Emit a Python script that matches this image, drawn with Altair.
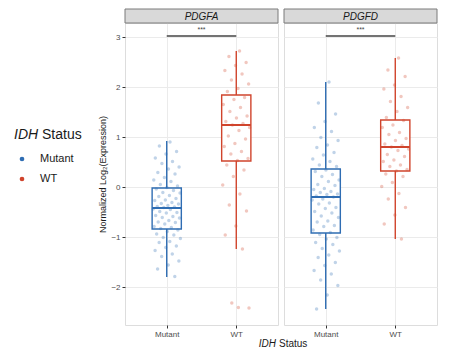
import altair as alt
import pandas as pd

genes = ["PDGFA", "PDGFD"]
statuses = ["Mutant", "WT"]

# jittered sample values (normalized log2 expression)
pdgfa_mutant = [0.90, 0.82, 0.71, 0.66, 0.58, 0.51, 0.47, 0.40, 0.36, 0.29, 0.26, 0.19, 0.14, 0.11, 0.05, 0.02, -0.01,
                -0.04, -0.07, -0.11, -0.12, -0.17, -0.19, -0.23, -0.26, -0.27, -0.31, -0.33, -0.34, -0.37, -0.39, -0.40, -0.41,
                -0.44, -0.45, -0.49, -0.51, -0.52, -0.57, -0.59, -0.61, -0.62, -0.67, -0.70, -0.71, -0.74, -0.79, -0.81, -0.83,
                -0.86, -0.89, -0.94, -0.96, -1.01, -1.03, -1.09, -1.11, -1.18, -1.21, -1.27, -1.34, -1.39, -1.48, -1.56, -1.64, -1.79]
pdgfa_wt = [2.72, 2.61, 2.49, 2.43, 2.33, 2.26, 2.14, 2.06, 1.97, 1.91,
            1.79, 1.75, 1.65, 1.59, 1.51, 1.42, 1.38, 1.31, 1.27, 1.24,
            1.19, 1.13, 1.02, 0.96, 0.87, 0.81, 0.71, 0.66, 0.57, 0.53,
            0.44, 0.34, 0.21, 0.04, -0.14, -0.36, -0.48, -0.78, -0.96, -1.24,
            -2.32, -2.42, -2.41]
pdgfd_mutant = [2.10, 1.68, 1.46, 1.31, 1.19, 1.11, 0.99, 0.93, 0.84, 0.79, 0.69, 0.64, 0.56, 0.51, 0.44, 0.41,
                0.34, 0.31, 0.25, 0.21, 0.14, 0.11, 0.05, 0.03, -0.03, -0.05, -0.09, -0.11, -0.14, -0.15, -0.18, -0.20,
                -0.24, -0.26, -0.32, -0.34, -0.41, -0.43, -0.49, -0.52, -0.58, -0.61, -0.68, -0.70, -0.77, -0.79, -0.86, -0.91,
                -0.95, -1.01, -1.04, -1.11, -1.15, -1.23, -1.28, -1.36, -1.41, -1.51, -1.57, -1.67, -1.74, -1.86, -1.97, -2.16, -2.44]
pdgfd_wt = [2.58, 2.34, 2.21, 2.04, 1.96, 1.81, 1.71, 1.59, 1.51, 1.39,
            1.33, 1.24, 1.19, 1.09, 1.05, 0.97, 0.93, 0.86, 0.83, 0.80,
            0.76, 0.73, 0.65, 0.61, 0.54, 0.51, 0.44, 0.41, 0.35, 0.32,
            0.26, 0.21, 0.09, 0.01, -0.13, -0.24, -0.41, -0.56, -0.74, -1.04]

# box summaries
box_gene = ["PDGFA", "PDGFA", "PDGFD", "PDGFD"]
box_status = ["Mutant", "WT", "Mutant", "WT"]
box_q1 = [-0.84, 0.52, -0.92, 0.32]
box_med = [-0.42, 1.24, -0.20, 0.80]
box_q3 = [-0.02, 1.84, 0.36, 1.34]
box_lo = [-1.80, -1.24, -2.44, -1.04]
box_hi = [0.92, 2.72, 2.10, 2.58]

sig_label = "***"
sig_y = 3.02

y_ticks = [-2, -1, 0, 1, 2, 3]

BOX_COL = ["#2f6db3", "#d0442c"]
PT_COL = ["#4d6fd8", "#e3563f"]

# ---- tables ----
rows = []
for gene, status, vals in [("PDGFA", "Mutant", pdgfa_mutant), ("PDGFA", "WT", pdgfa_wt),
                           ("PDGFD", "Mutant", pdgfd_mutant), ("PDGFD", "WT", pdgfd_wt)]:
    pos = statuses.index(status) + 1
    for k, v in enumerate(vals):
        jit = (((k + 1) * 0.6180339887) % 1.0 - 0.5) * 0.4
        rows.append({"gene": gene, "status": status, "value": v, "xj": pos + jit})
points = pd.DataFrame(rows)

boxes = pd.DataFrame({"gene": box_gene, "status": box_status, "q1": box_q1, "med": box_med,
                      "q3": box_q3, "lo": box_lo, "hi": box_hi})
boxes["pos"] = [statuses.index(s) + 1 for s in boxes["status"]]
boxes["x1"] = boxes["pos"] - 0.21
boxes["x2"] = boxes["pos"] + 0.21

W, H = 153, 302
yscale = alt.Scale(domain=[-2.76, 3.28], nice=False, zero=False)
xscale = alt.Scale(domain=[0.4, 2.6], nice=False, zero=False)
box_scale = alt.Scale(domain=statuses, range=BOX_COL)
pt_scale = alt.Scale(domain=statuses, range=PT_COL)

FONT = "Liberation Sans"


def panel(gene, first):
    xaxis = alt.Axis(values=[1, 2], labelExpr="datum.value == 1 ? 'Mutant' : 'WT'", title=None,
                     grid=True, gridColor="#ebebeb", domain=False, tickColor="#333333", tickSize=3,
                     labelFontSize=8, labelColor="#4d4d4d", labelPadding=2, labelFont=FONT)
    if first:
        yaxis = alt.Axis(values=y_ticks, title="Normalized Log₂(Expression)", grid=True, gridColor="#ebebeb",
                         domain=False, tickColor="#333333", tickSize=3, labelFontSize=8, labelColor="#4d4d4d",
                         labelPadding=2, titleFontSize=9, titleFontWeight="normal", titleColor="#1a1a1a",
                         titlePadding=3, titleFont=FONT, labelFont=FONT)
    else:
        yaxis = alt.Axis(values=y_ticks, title=None, grid=True, gridColor="#ebebeb", domain=False,
                         labels=False, ticks=False)

    bx = boxes[boxes["gene"] == gene]
    pts = points[points["gene"] == gene]

    whisk = alt.Chart(bx).mark_rule(strokeWidth=1.4).encode(
        x=alt.X("pos:Q", scale=xscale, axis=xaxis),
        y=alt.Y("lo:Q", scale=yscale, axis=yaxis),
        y2="hi:Q",
        color=alt.Color("status:N", scale=box_scale, legend=None),
    )
    box = alt.Chart(bx).mark_rect(fill="white", strokeWidth=1.4).encode(
        x=alt.X("x1:Q", scale=xscale, axis=xaxis),
        x2="x2:Q",
        y=alt.Y("q1:Q", scale=yscale, axis=yaxis),
        y2="q3:Q",
        stroke=alt.Stroke("status:N", scale=box_scale, legend=None),
    )
    dots = alt.Chart(pts).mark_circle(size=12, opacity=0.3).encode(
        x=alt.X("xj:Q", scale=xscale, axis=xaxis),
        y=alt.Y("value:Q", scale=yscale, axis=yaxis),
        color=alt.Color("status:N", scale=pt_scale, legend=None),
    )
    med = alt.Chart(bx).mark_rule(strokeWidth=2).encode(
        x=alt.X("x1:Q", scale=xscale, axis=xaxis),
        x2="x2:Q",
        y=alt.Y("med:Q", scale=yscale, axis=yaxis),
        color=alt.Color("status:N", scale=box_scale, legend=None),
    )
    sig_df = pd.DataFrame({"a": [1], "b": [2], "m": [1.5], "y": [sig_y], "lab": [sig_label]})
    sig = alt.Chart(sig_df).mark_rule(color="#444444", strokeWidth=1.3).encode(
        x=alt.X("a:Q", scale=xscale, axis=xaxis), x2="b:Q",
        y=alt.Y("y:Q", scale=yscale, axis=yaxis),
    )
    sigt = alt.Chart(sig_df).mark_text(fontSize=7, color="#444444", dy=-6, font=FONT).encode(
        x=alt.X("m:Q", scale=xscale, axis=xaxis),
        y=alt.Y("y:Q", scale=yscale, axis=yaxis),
        text="lab:N",
    )
    one = pd.DataFrame({"gene": [gene]})
    strip = alt.Chart(one).mark_rect(fill="#d9d9d9", stroke="#7a7a7a", strokeWidth=1).encode(
        x=alt.value(0), x2=alt.value(W), y=alt.value(-14), y2=alt.value(0)
    )
    stript = alt.Chart(one).mark_text(fontSize=10, fontStyle="italic", color="#1a1a1a", font=FONT).encode(
        x=alt.value(W / 2), y=alt.value(-6.5), text="gene:N"
    )
    layers = [whisk, box, dots, med, sig, sigt, strip, stript]

    if first:
        leg = pd.DataFrame({"status": statuses, "yy": [136, 156]})
        legt1 = alt.Chart(one).mark_text(fontSize=14, fontStyle="italic", align="left", baseline="middle",
                                         color="#1a1a1a", font=FONT).encode(
            x=alt.value(-111), y=alt.value(112), text=alt.value("IDH"))
        legt2 = alt.Chart(one).mark_text(fontSize=14, align="left", baseline="middle",
                                         color="#1a1a1a", font=FONT).encode(
            x=alt.value(-83), y=alt.value(112), text=alt.value("Status"))
        legd = alt.Chart(leg).mark_circle(size=22, opacity=1).encode(
            x=alt.value(-103), y=alt.Y("yy:Q", scale=None, axis=None),
            color=alt.Color("status:N", scale=box_scale, legend=None),
        )
        legl = alt.Chart(leg).mark_text(fontSize=11, align="left", baseline="middle", color="#1a1a1a",
                                        font=FONT).encode(
            x=alt.value(-85), y=alt.Y("yy:Q", scale=None, axis=None), text="status:N"
        )
        layers += [legt1, legt2, legd, legl]
    else:
        xt1 = alt.Chart(one).mark_text(fontSize=10, fontStyle="italic", align="right", baseline="middle",
                                       color="#1a1a1a", font=FONT).encode(
            x=alt.value(-8), y=alt.value(321), text=alt.value("IDH"))
        xt2 = alt.Chart(one).mark_text(fontSize=10, align="left", baseline="middle",
                                       color="#1a1a1a", font=FONT).encode(
            x=alt.value(-5), y=alt.value(321), text=alt.value("Status"))
        layers += [xt1, xt2]

    return alt.layer(*layers).properties(width=W, height=H)


chart = alt.hconcat(panel("PDGFA", True), panel("PDGFD", False), spacing=6, bounds="flush").properties(
    padding={"left": 5, "top": 0, "right": 5, "bottom": 5}
).configure_view(stroke="#333333", strokeWidth=1).configure(background="white")

chart.save("out.html", embed_options={"renderer": "svg", "actions": False})
